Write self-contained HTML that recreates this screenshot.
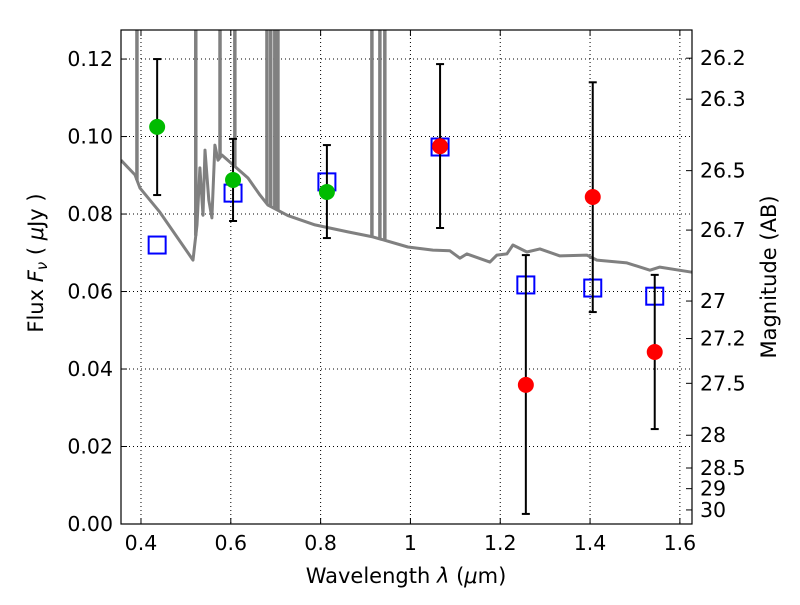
<!DOCTYPE html>
<html><head><meta charset="utf-8"><style>
html,body{margin:0;padding:0;background:#fff;}
svg text{font-family:"DejaVu Sans","Liberation Sans",sans-serif;fill:#000;}
</style></head><body>
<svg id="chart" width="800" height="600" xmlns="http://www.w3.org/2000/svg">
<rect width="800" height="600" fill="#fff"/>
<defs><clipPath id="clip"><rect x="121" y="30" width="571" height="494"/></clipPath></defs>
<g id="grid"></g>
<g id="plot" clip-path="url(#clip)"></g>
<rect x="121" y="30" width="571" height="494" fill="none" stroke="#000" stroke-width="1.2"/>
<g id="axes"></g>
<text x="406" y="583" font-size="21" text-anchor="middle">Wavelength  <tspan font-style="italic">λ</tspan> (<tspan font-style="italic">μ</tspan>m)</text>
<text transform="translate(43,263) rotate(-90)" font-size="21" text-anchor="middle">Flux  <tspan font-style="italic">F</tspan><tspan font-style="italic" font-size="15" dy="4">ν</tspan><tspan dy="-4">  ( </tspan><tspan font-style="italic">μ</tspan>Jy )</text>
<text transform="translate(776,277) rotate(-90)" font-size="21" text-anchor="middle">Magnitude (AB)</text>
</svg>
<script>
const bandWl = [0.436,0.605,0.814,1.066,1.257,1.406,1.544];
const obsFlux = [0.1025,0.0888,0.0857,0.0975,0.0359,0.0844,0.0444];
const errLow = [0.0849,0.0782,0.0738,0.0764,0.0026,0.0547,0.0245];
const errHigh = [0.120,0.0994,0.0978,0.1187,0.0694,0.114,0.0643];
const detected = [true,true,true,false,false,false,false];
const modelFlux = [0.072,0.0854,0.0883,0.0973,0.0617,0.0609,0.0588];
const specWl = [0.3555,0.3866,0.3978,0.442,0.5158,0.5247,0.5313,0.538,0.5425,0.551,0.558,0.5647,0.5714,0.5803,0.6382,0.665,0.6827,0.7272,0.7874,0.8608,0.9165,0.9944,1.05,1.0879,1.1102,1.1257,1.177,1.1925,1.2148,1.2281,1.2593,1.2883,1.3328,1.3929,1.4152,1.482,1.5332,1.5554,1.6267];
const specFlux = [0.0939,0.0901,0.0867,0.0805,0.0681,0.0772,0.0919,0.0797,0.0965,0.0836,0.079,0.0978,0.0939,0.0952,0.0893,0.0849,0.0823,0.0796,0.0772,0.0754,0.0741,0.0715,0.0707,0.0705,0.0686,0.0697,0.0676,0.0694,0.0697,0.072,0.0702,0.071,0.0692,0.0694,0.0681,0.0674,0.0655,0.0663,0.065];
const spikeWl = [0.391,0.522,0.576,0.609,0.6805,0.689,0.698,0.705,0.9142,0.932,0.943];
const xTicks = [0.4,0.6,0.8,1.0,1.2,1.4,1.6];
const xTickLabels = ["0.4","0.6","0.8","1","1.2","1.4","1.6"];
const yTicks = [0,0.02,0.04,0.06,0.08,0.10,0.12];
const yTickLabels = ["0.00","0.02","0.04","0.06","0.08","0.10","0.12"];
const magTicks = [26.2,26.3,26.5,26.7,27,27.2,27.5,28,28.5,29,30];

const X0=121,X1=692,Y0=524,Y1=30,XMIN=0.3555,XMAX=1.627,YMIN=0,YMAX=0.1275;
const sx=v=>X0+(v-XMIN)/(XMAX-XMIN)*(X1-X0);
const sy=v=>Y0-(v-YMIN)/(YMAX-YMIN)*(Y0-Y1);
const NS='http://www.w3.org/2000/svg';
function mk(tag,attrs,parent){const e=document.createElementNS(NS,tag);for(const k in attrs)e.setAttribute(k,attrs[k]);parent.appendChild(e);return e;}
const grid=document.getElementById('grid'),plot=document.getElementById('plot'),axes=document.getElementById('axes');

xTicks.forEach((t,i)=>{
  const x=sx(t);
  const g=mk('line',{x1:x,x2:x,y1:Y1,y2:Y0,stroke:'#000','stroke-width':1,'stroke-dasharray':'1,3'},grid);
  
  
  const tk=mk('line',{x1:x,x2:x,y1:Y0,y2:Y0-6,stroke:'#000'},axes);
  
  
  const tk2=mk('line',{x1:x,x2:x,y1:Y1,y2:Y1+6,stroke:'#000'},axes);
  
  
  const l=mk('text',{x:x,y:Y0+26,'font-size':20.5,'text-anchor':'middle'},axes);
  l.textContent=xTickLabels[i];
  
  
});
yTicks.forEach((t,i)=>{
  const y=sy(t);
  const g=mk('line',{x1:X0,x2:X1,y1:y,y2:y,stroke:'#000','stroke-width':1,'stroke-dasharray':'1,3'},grid);
  
  
  const tk=mk('line',{x1:X0,x2:X0+6,y1:y,y2:y,stroke:'#000'},axes);
  
  
  const l=mk('text',{x:X0-8,y:y+7,'font-size':20.5,'text-anchor':'end'},axes);
  l.textContent=yTickLabels[i];
  
  
});
magTicks.forEach(m=>{
  const f=Math.pow(10,(23.9-m)/2.5);
  const y=sy(f);
  const tk=mk('line',{x1:X1,x2:X1-6,y1:y,y2:y,stroke:'#000'},axes);
  
  
  const l=mk('text',{x:X1+8,y:y+7,'font-size':20.5},axes);
  l.textContent=String(m);
  
  
});

function interp(w){for(let i=0;i<specWl.length-1;i++){if(w>=specWl[i]&&w<=specWl[i+1]){const t=(w-specWl[i])/(specWl[i+1]-specWl[i]);return specFlux[i]+t*(specFlux[i+1]-specFlux[i]);}}return specFlux[specFlux.length-1];}
let d='';specWl.forEach((w,i)=>{d+=(i?'L':'M')+sx(w).toFixed(1)+','+sy(specFlux[i]).toFixed(1);});
const sp=mk('path',{d:d,fill:'none',stroke:'#808080','stroke-width':3,'stroke-linejoin':'round'},plot);


spikeWl.forEach(w=>{
  const s=mk('line',{x1:sx(w),x2:sx(w),y1:sy(interp(w)),y2:Y1-5,stroke:'#808080','stroke-width':3.5},plot);
  
  
});
modelFlux.forEach((f,i)=>{
  const r=mk('rect',{x:sx(bandWl[i])-8.5,y:sy(f)-8.5,width:17,height:17,fill:'none',stroke:'#0000ff','stroke-width':2},plot);
  
  
});
bandWl.forEach((w,i)=>{
  const x=sx(w),yt=sy(errHigh[i]),yb=sy(errLow[i]);
  const l=mk('line',{x1:x,x2:x,y1:yt,y2:yb,stroke:'#000','stroke-width':2},plot);
  
  
  [yt,yb].forEach(y=>{const c=mk('line',{x1:x-4,x2:x+4,y1:y,y2:y,stroke:'#000','stroke-width':2},plot);
    
    });
});
obsFlux.forEach((f,i)=>{
  const c=mk('circle',{cx:sx(bandWl[i]),cy:sy(f),r:8,fill:detected[i]?'#00bb00':'#ff0000'},plot);
  
  
});
</script>
</body></html>
